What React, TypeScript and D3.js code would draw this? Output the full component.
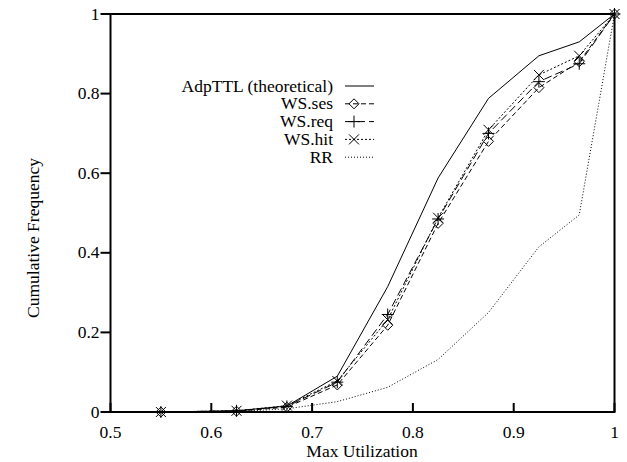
import React from "react";
import * as d3 from "d3";

const xVals = [0.55, 0.625, 0.675, 0.725, 0.775, 0.825, 0.875, 0.925, 0.965, 1.0];
const adpTTL = [0, 0.003, 0.015, 0.09, 0.315, 0.588, 0.788, 0.895, 0.93, 1.0];
const wsSes = [0, 0.002, 0.012, 0.068, 0.218, 0.474, 0.68, 0.815, 0.88, 1.0];
const wsReq = [0, 0.003, 0.014, 0.075, 0.245, 0.485, 0.7, 0.83, 0.875, 1.0];
const wsHit = [0, 0.003, 0.016, 0.078, 0.232, 0.488, 0.709, 0.847, 0.895, 1.0];
const rr = [0, 0.001, 0.008, 0.026, 0.062, 0.132, 0.25, 0.415, 0.495, 1.0];
const xTicks = [0.5, 0.6, 0.7, 0.8, 0.9, 1];
const yTicks = [0, 0.2, 0.4, 0.6, 0.8, 1];
const xTickLabels = ["0.5", "0.6", "0.7", "0.8", "0.9", "1"];
const yTickLabels = ["0", "0.2", "0.4", "0.6", "0.8", "1"];

type Series = { name: string; values: number[]; dash: string; marker: string };
const series: Series[] = [
  { name: "AdpTTL (theoretical)", values: adpTTL, dash: "", marker: "none" },
  { name: "WS.ses", values: wsSes, dash: "5,3", marker: "diamond" },
  { name: "WS.req", values: wsReq, dash: "8,4", marker: "plus" },
  { name: "WS.hit", values: wsHit, dash: "2,2", marker: "cross" },
  { name: "RR", values: rr, dash: "1,2", marker: "none" },
];

const FONT = "'Liberation Serif', 'Times New Roman', serif";
const FS = 17.5;

function Marker({ type, x, y }: { type: string; x: number; y: number }) {
  const s = 5;
  if (type === "diamond")
    return (
      <path
        d={`M${x},${y - s}L${x + s},${y}L${x},${y + s}L${x - s},${y}Z`}
        fill="none"
        stroke="#000"
        strokeWidth={1}
      />
    );
  if (type === "plus")
    return (
      <path d={`M${x - 6},${y}H${x + 6}M${x},${y - 6}V${y + 6}`} stroke="#000" strokeWidth={1} />
    );
  if (type === "cross")
    return (
      <path
        d={`M${x - 5},${y - 5}L${x + 5},${y + 5}M${x - 5},${y + 5}L${x + 5},${y - 5}`}
        stroke="#000"
        strokeWidth={1}
      />
    );
  return null;
}

export default function App() {
  const W = 627;
  const H = 462;
  const x = d3.scaleLinear().domain([0.5, 1]).range([110.5, 614.5]);
  const y = d3.scaleLinear().domain([0, 1]).range([412, 14]);
  const line = d3
    .line<number>()
    .x((_, i) => x(xVals[i]))
    .y((d) => y(d));

  const legendX = 345;
  const legendY0 = 86;
  const legendDy = 17.8;

  return (
    <svg
      width={W}
      height={H}
      style={{ position: "absolute", left: 0, top: 0, background: "#fff" }}
      fontFamily={FONT}
    >
      <rect width={W} height={H} fill="#fff" />
      {series.map((s) => (
        <path
          key={s.name}
          d={line(s.values) || ""}
          fill="none"
          stroke="#000"
          strokeWidth={1}
          strokeDasharray={s.dash || undefined}
        />
      ))}
      {series.map((s) =>
        s.marker === "none"
          ? null
          : s.values.map((v, i) => (
              <Marker key={s.name + i} type={s.marker} x={x(xVals[i])} y={y(v)} />
            ))
      )}
      <path
        d={`M${x(0.5)},${y(0)}H${x(1)}V${y(1)}H${x(0.5)}Z`}
        fill="none"
        stroke="#000"
        strokeWidth={2}
      />
      {xTicks.map((t, i) => (
        <g key={"xt" + i}>
          <line x1={x(t)} x2={x(t)} y1={y(0)} y2={y(0) - 9} stroke="#000" strokeWidth={2} />
          <text x={x(t)} y={438} textAnchor="middle" fontSize={FS}>
            {xTickLabels[i]}
          </text>
        </g>
      ))}
      {yTicks.map((t, i) => (
        <g key={"yt" + i}>
          <line x1={x(0.5) - 10} x2={x(0.5)} y1={y(t)} y2={y(t)} stroke="#000" strokeWidth={2} />
          <text x={x(0.5) - 11} y={y(t) + 5.5} textAnchor="end" fontSize={FS}>
            {yTickLabels[i]}
          </text>
        </g>
      ))}
      <text x={362} y={457} textAnchor="middle" fontSize={FS}>
        Max Utilization
      </text>
      <text transform={`translate(39,238) rotate(-90)`} textAnchor="middle" fontSize={FS}>
        Cumulative Frequency
      </text>
      {series.map((s, i) => {
        const ly = legendY0 + i * legendDy;
        return (
          <g key={"lg" + i}>
            <text x={333} y={ly + 5.5} textAnchor="end" fontSize={FS}>
              {s.name}
            </text>
            <line
              x1={legendX}
              x2={legendX + 29}
              y1={ly}
              y2={ly}
              stroke="#000"
              strokeWidth={1}
              strokeDasharray={s.dash || undefined}
            />
            {s.marker !== "none" && <Marker type={s.marker} x={legendX + 9} y={ly} />}
          </g>
        );
      })}
    </svg>
  );
}
